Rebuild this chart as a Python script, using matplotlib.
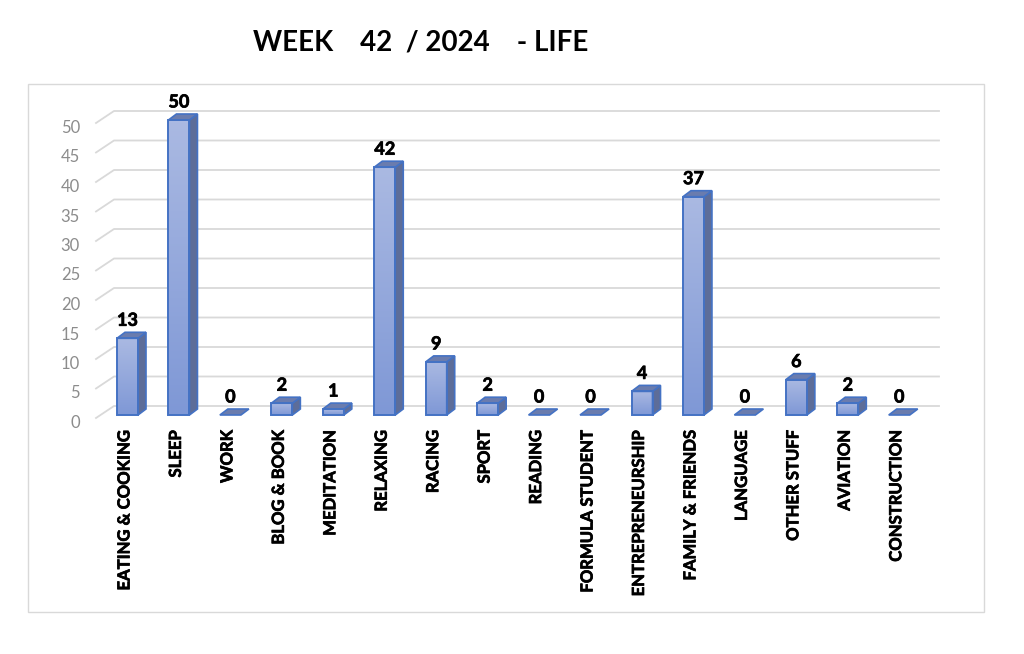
import numpy as np
import matplotlib.pyplot as plt
import matplotlib.patheffects as pe
from matplotlib.patches import Polygon, Rectangle
from matplotlib.colors import LinearSegmentedColormap

categories = ["EATING & COOKING", "SLEEP", "WORK", "BLOG & BOOK", "MEDITATION",
              "RELAXING", "RACING", "SPORT", "READING", "FORMULA STUDENT",
              "ENTREPRENEURSHIP", "FAMILY & FRIENDS", "LANGUAGE", "OTHER STUFF",
              "AVIATION", "CONSTRUCTION"]
hours = [13, 50, 0, 2, 1, 42, 9, 2, 0, 0, 4, 37, 0, 6, 2, 0]
yticks = [0, 5, 10, 15, 20, 25, 30, 35, 40, 45, 50]
title = "WEEK    42  / 2024    - LIFE"

plt.rcParams['font.family'] = ['Lato', 'DejaVu Sans']

W, H = 1024, 654
x0, dx_cat = 127.5, 51.45   # pixel of first bar centre, spacing
y0, dy_val = 415, 5.9       # pixel of value 0, pixels per unit

fig = plt.figure(figsize=(W / 100, H / 100), dpi=100)
frame = Rectangle((28 / W, 1 - 612 / H), 956 / W, 528 / H, transform=fig.transFigure,
                  fc='white', ec='#d9d9d9', lw=1, zorder=-1)
fig.patches.append(frame)
ax = fig.add_axes([0, 0, 1, 1])
ax.axis('off')

# pixel offsets converted to data units
def px(v):
    return v / dx_cat
def py(v):
    return v / dy_val

# small bold text comes out thin, thicken it a bit
thick = [pe.withStroke(linewidth=0.5, foreground='black')]

# floor/wall gridlines
for v in yticks:
    ax.plot([px(96 - x0), px(114 - x0), px(939 - x0)],
            [v - py(3), v + py(9), v + py(9)], color='#d9d9d9', lw=1.3, zorder=1)
    ax.text(px(80 - x0), v - py(8), str(v), color='#8c8c8c', fontsize=12,
            ha='right', va='center')

grad = np.linspace(0, 1, 64).reshape(-1, 1)
cmap = LinearSegmentedColormap.from_list('bar', ['#aab9e2', '#7f98d6'])
edge = '#4472c4'
hw = px(10.5)
ddx, ddy = px(8), py(6)

for i, (name, val) in enumerate(zip(categories, hours)):
    l, r = i - hw, i + hw
    if val > 0:
        ax.imshow(grad, extent=(l, r, 0, val), aspect='auto', cmap=cmap, zorder=3,
                  interpolation='bilinear')
        ax.add_patch(Rectangle((l, 0), r - l, val, fc='none', ec=edge, lw=1.4, zorder=4))
        ax.add_patch(Polygon([(r, 0), (r + ddx, ddy), (r + ddx, val + ddy), (r, val)],
                             fc='#5d6d99', ec=edge, lw=1.2, zorder=3))
    ax.add_patch(Polygon([(l, val), (r, val), (r + ddx, val + ddy), (l + ddx, val + ddy)],
                         fc='#6a7cae', ec=edge, lw=1.2, zorder=3))
    ax.text(i, val + py(18), str(val), fontsize=13, fontweight='bold', color='black',
            ha='center', va='center', zorder=5, path_effects=thick)
    ax.text(i - px(3), -py(15), name, fontsize=12, fontweight='bold', color='black',
            rotation=90, ha='center', va='top', zorder=5, path_effects=thick)

ax.set_xlim(-x0 / dx_cat, (W - x0) / dx_cat)
ax.set_ylim((y0 - H) / dy_val, y0 / dy_val)

fig.text(420.5 / W, 1 - 43 / H, title, fontsize=20, fontweight='bold', color='black',
         ha='center', va='center')

plt.savefig("out.png", dpi=100)
